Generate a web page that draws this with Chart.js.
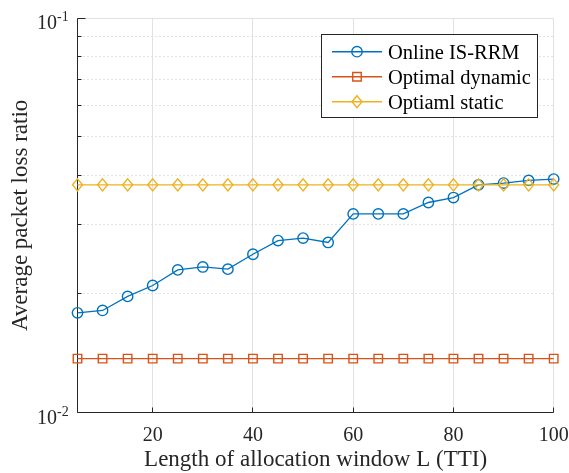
<!DOCTYPE html>
<html>
<head>
<meta charset="utf-8">
<script src="https://cdn.jsdelivr.net/npm/chart.js@4.4.1/dist/chart.umd.min.js"></script>
<style>
  html, body { margin: 0; padding: 0; background: #ffffff; }
  canvas { display: block; }
</style>
</head>
<body>
<canvas id="lossChart" width="569" height="473"></canvas>
<script>
// Allocation window length L (TTI)
const windowLengths = [5, 10, 15, 20, 25, 30, 35, 40, 45, 50, 55, 60, 65, 70, 75, 80, 85, 90, 95, 100];

// Average packet loss ratio per scheme
const onlineIsRrm = [0.0179, 0.01815, 0.0197, 0.0210, 0.0230, 0.0234, 0.0231, 0.0252, 0.0273, 0.0277,
                     0.0270, 0.0319, 0.0319, 0.0319, 0.0341, 0.0351, 0.0378, 0.0382, 0.0388, 0.0391];
const optimalDynamic = [0.0137, 0.0137, 0.0137, 0.0137, 0.0137, 0.0137, 0.0137, 0.0137, 0.0137, 0.0137,
                        0.0137, 0.0137, 0.0137, 0.0137, 0.0137, 0.0137, 0.0137, 0.0137, 0.0137, 0.0137];
const optimalStatic = [0.0378, 0.0378, 0.0378, 0.0378, 0.0378, 0.0378, 0.0378, 0.0378, 0.0378, 0.0378,
                       0.0378, 0.0378, 0.0378, 0.0378, 0.0378, 0.0378, 0.0378, 0.0378, 0.0378, 0.0378];

// Axis ticks
const xTickValues = [20, 40, 60, 80, 100];
const yMajorTicks = [0.01, 0.1];
const yMajorExponents = ['-2', '-1'];
const yMinorTicks = [0.02, 0.03, 0.04, 0.05, 0.06, 0.07, 0.08, 0.09];

const seriesNames = ['Online IS-RRM', 'Optimal dynamic', 'Optiaml static'];
const xTitle = 'Length of allocation window L (TTI)';
const yTitle = 'Average packet loss ratio';

const SERIF = '"Liberation Serif", "Times New Roman", serif';
const INK = '#262626';
const COLORS = ['#0072BD', '#D95319', '#EDB120'];
const MARKERS = ['circle', 'square', 'diamond'];

function drawMarker(ctx, kind, x, y, color) {
  ctx.save();
  ctx.strokeStyle = color;
  ctx.lineWidth = 1.4;
  ctx.setLineDash([]);
  ctx.beginPath();
  if (kind === 'circle') {
    ctx.arc(x, y, 5.2, 0, Math.PI * 2);
  } else if (kind === 'square') {
    ctx.rect(x - 4.25, y - 4.25, 8.5, 8.5);
  } else {
    ctx.moveTo(x, y - 6);
    ctx.lineTo(x + 5, y);
    ctx.lineTo(x, y + 6);
    ctx.lineTo(x - 5, y);
    ctx.closePath();
  }
  ctx.stroke();
  ctx.restore();
}

const px = v => Math.floor(v) + 0.5;

// Grid, axis lines, tick marks, labels, titles and the boxed legend
const axesFrame = {
  id: 'axesFrame',
  beforeDatasetsDraw(chart) {
    const { ctx, chartArea: a, scales: { x, y } } = chart;
    const L = px(a.left), R = px(a.right), T = px(a.top), B = px(a.bottom);
    ctx.save();
    ctx.lineWidth = 1;

    // dotted minor grid
    ctx.strokeStyle = '#c6c6c6';
    ctx.setLineDash([1, 3]);
    yMinorTicks.forEach(v => {
      const py = px(y.getPixelForValue(v));
      ctx.beginPath(); ctx.moveTo(L + 2, py); ctx.lineTo(R, py); ctx.stroke();
    });
    ctx.setLineDash([]);

    // solid major grid
    ctx.strokeStyle = '#e1e1e1';
    xTickValues.forEach(v => {
      const xx = px(x.getPixelForValue(v));
      ctx.beginPath(); ctx.moveTo(xx, T); ctx.lineTo(xx, B); ctx.stroke();
    });
    yMajorTicks.forEach(v => {
      const py = px(y.getPixelForValue(v));
      ctx.beginPath(); ctx.moveTo(L, py); ctx.lineTo(R, py); ctx.stroke();
    });

    // axis lines
    ctx.strokeStyle = INK;
    ctx.beginPath();
    ctx.moveTo(L, T); ctx.lineTo(L, B); ctx.lineTo(R, B);
    ctx.stroke();

    // inward tick marks
    ctx.beginPath();
    xTickValues.forEach(v => {
      const xx = px(x.getPixelForValue(v));
      ctx.moveTo(xx, B); ctx.lineTo(xx, B - 5);
    });
    yMinorTicks.forEach(v => {
      const py = px(y.getPixelForValue(v));
      ctx.moveTo(L, py); ctx.lineTo(L + 4, py);
    });
    yMajorTicks.forEach(v => {
      const py = px(y.getPixelForValue(v));
      ctx.moveTo(L, py); ctx.lineTo(L + 8, py);
    });
    ctx.stroke();
    ctx.restore();
  },
  afterDatasetDraw(chart, args) {
    const ds = chart.data.datasets[args.index];
    args.meta.data.forEach(el => drawMarker(chart.ctx, ds.marker, el.x, el.y, ds.borderColor));
  },
  afterDraw(chart) {
    const { ctx, chartArea: a, scales: { x, y } } = chart;
    ctx.save();
    ctx.fillStyle = INK;

    // x tick labels
    ctx.font = '20px ' + SERIF;
    ctx.textAlign = 'center';
    ctx.textBaseline = 'alphabetic';
    xTickValues.forEach(v => ctx.fillText(String(v), x.getPixelForValue(v), a.bottom + 28));

    // y tick labels as powers of ten
    yMajorTicks.forEach((v, i) => {
      const py = y.getPixelForValue(v);
      ctx.font = '20px ' + SERIF;
      ctx.textAlign = 'right';
      ctx.fillText('10', a.left - 20.5, py + 11);
      ctx.font = '14px ' + SERIF;
      ctx.textAlign = 'left';
      ctx.fillText(yMajorExponents[i], a.left - 20.5, py + 3);
    });

    // axis titles
    ctx.font = '23px ' + SERIF;
    ctx.textAlign = 'center';
    ctx.fillText(xTitle, (a.left + a.right) / 2, 466);
    ctx.save();
    ctx.translate(26.7, (a.top + a.bottom) / 2);
    ctx.rotate(-Math.PI / 2);
    ctx.fillText(yTitle, 0, 0);
    ctx.restore();

    // legend
    const bx = 321.5, by = 34.5, bw = 216, bh = 83;
    ctx.fillStyle = '#ffffff';
    ctx.fillRect(bx, by, bw, bh);
    ctx.strokeStyle = INK;
    ctx.lineWidth = 1;
    ctx.strokeRect(bx, by, bw, bh);
    chart.data.datasets.forEach((ds, i) => {
      const ry = 51.7 + i * 25;
      ctx.strokeStyle = ds.borderColor;
      ctx.lineWidth = 1.4;
      ctx.beginPath(); ctx.moveTo(332, ry); ctx.lineTo(382, ry); ctx.stroke();
      drawMarker(ctx, ds.marker, 357, ry, ds.borderColor);
      ctx.fillStyle = '#000000';
      ctx.font = '20.5px ' + SERIF;
      ctx.textAlign = 'left';
      ctx.fillText(ds.label, 388, ry + 6.8);
    });
    ctx.restore();
  }
};

const seriesValues = [onlineIsRrm, optimalDynamic, optimalStatic];

new Chart(document.getElementById('lossChart'), {
  type: 'line',
  data: {
    datasets: seriesValues.map((vals, i) => ({
      label: seriesNames[i],
      data: windowLengths.map((L, k) => ({ x: L, y: vals[k] })),
      borderColor: COLORS[i],
      backgroundColor: COLORS[i],
      borderWidth: 1.3,
      pointRadius: 0,
      fill: false,
      tension: 0,
      clip: false,
      marker: MARKERS[i],
      order: 2 - i
    }))
  },
  options: {
    responsive: false,
    animation: false,
    devicePixelRatio: 1,
    events: [],
    layout: { padding: { left: 0, top: 18.3, right: 15.3, bottom: 0 } },
    plugins: { legend: { display: false }, tooltip: { enabled: false } },
    scales: {
      x: {
        type: 'linear', min: 5, max: 100,
        ticks: { display: false }, grid: { display: false }, border: { display: false },
        afterFit(s) { s.height = 60.5; }
      },
      y: {
        type: 'logarithmic', min: 0.01, max: 0.1,
        ticks: { display: false }, grid: { display: false }, border: { display: false },
        afterFit(s) { s.width = 77.5; }
      }
    }
  },
  plugins: [axesFrame]
});
</script>
</body>
</html>
